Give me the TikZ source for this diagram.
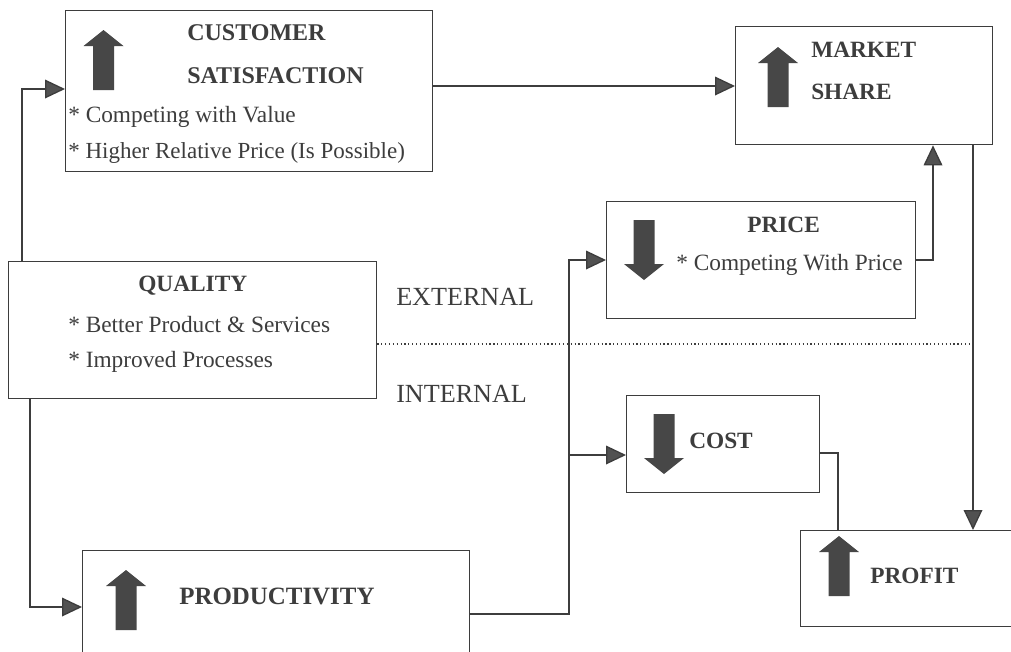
\documentclass[tikz,border=0pt]{standalone}
\usepackage{fontspec}
\setmainfont{Liberation Serif}
\usetikzlibrary{arrows.meta}
\definecolor{ink}{gray}{0.24}
\tikzset{
  x=0.75pt,y=-0.75pt,
  box/.style={draw=ink,line width=1pt,fill=white,inner sep=0pt,anchor=north west},
  link/.style={draw=ink,line width=1pt},
  tip/.style={-{Triangle[length=15pt,width=14pt,fill=ink!90]}},
  head/.style={font=\bfseries\fontsize{18}{18}\selectfont,text=ink,anchor=west,inner sep=0pt},
  smallhead/.style={font=\bfseries\fontsize{17.5}{17.5}\selectfont,text=ink,anchor=west,inner sep=0pt},
  bighead/.style={font=\bfseries\fontsize{18.7}{18.7}\selectfont,text=ink,anchor=west,inner sep=0pt},
  body/.style={font=\fontsize{17.5}{17.5}\selectfont,text=ink,anchor=west,inner sep=0pt},
  side/.style={font=\fontsize{19.6}{19.6}\selectfont,text=ink,anchor=west,inner sep=0pt},
  bigarrow/.style={fill=ink!95,draw=none},
  pics/uparrow/.style={code={\path[bigarrow] (-10.5,60)--(-10.5,16)--(-20,16)--(0,0)--(20,16)--(10.5,16)--(10.5,60)--cycle;}},
  pics/downarrow/.style={code={\path[bigarrow] (-10.5,0)--(-10.5,44)--(-20,44)--(0,60)--(20,44)--(10.5,44)--(10.5,0)--cycle;}},
}
\newcommand{\boxat}[5]{\node[box,minimum width=#4*0.75pt,minimum height=#5*0.75pt] (#1) at (#2,#3) {};}
\begin{document}
\begin{tikzpicture}
\useasboundingbox (0,0) rectangle (1011,651);
\fill[white] (0,0) rectangle (1011,651);
\boxat{customer}{65}{10}{367}{161}
\boxat{market}{735}{26}{257}{118}
\boxat{price}{606}{201}{309}{117}
\boxat{quality}{8}{261}{368}{137}
\boxat{cost}{626}{395}{193}{97}
\boxat{profit}{800}{530}{260}{96}
\boxat{productivity}{82}{550}{387}{160}
\coordinate (qa) at (22,89);
\coordinate (qb) at (30,607);
\coordinate (cm) at (0,86);
\coordinate (pm) at (933,260);
\coordinate (mp) at (973,0);
\coordinate (bus) at (569,614);
\coordinate (busp) at (569,260);
\coordinate (bc) at (569,455);
\coordinate (cp) at (838,453);
\coordinate (dl) at (975,344);
\draw[link,tip] (quality.north -| qa) |- (customer.west |- qa);
\draw[link,tip] (customer.east |- cm) -- (market.west |- cm);
\draw[link,tip] (price.east |- pm) -| (market.south -| pm);
\draw[link,tip] (market.south -| mp) -- (profit.north -| mp);
\draw[link,tip] (quality.south -| qb) |- (productivity.west |- qb);
\draw[link,tip] (productivity.east |- bus) -- (bus) -- (busp) -- (price.west |- busp);
\draw[link,tip] (bc) -- (cost.west |- bc);
\draw[link] (cost.east |- cp) -| (profit.north -| cp);
\draw[ink,line width=0.9pt,dotted] (quality.east |- dl) -- (dl);
\pic at (103.5,30) {uparrow};
\pic at (778,47) {uparrow};
\pic at (644,220) {downarrow};
\pic at (664,414) {downarrow};
\pic at (839,536) {uparrow};
\pic at (126,570) {uparrow};
\node[head] (t1) at (187,33) {CUSTOMER};
\node[head] (t2) at (187,76) {SATISFACTION};
\node[body] (b1) at (68,117) {* Competing with Value};
\node[body,font=\fontsize{17.25}{17.25}\selectfont] (b2) at (68,153) {* Higher Relative Price (Is Possible)};
\node[smallhead] (t3) at (811,50) {MARKET};
\node[smallhead] (t4) at (811,92) {SHARE};
\node[smallhead] (t5) at (747,225) {PRICE};
\node[body] (b3) at (676,265) {* Competing With Price};
\node[smallhead] (t6) at (138,286) {QUALITY};
\node[body] (b4) at (68,325) {* Better Product \& Services};
\node[body] (b5) at (68,362) {* Improved Processes};
\node[smallhead] (t7) at (689,441) {COST};
\node[smallhead] (t8) at (870,576) {PROFIT};
\node[bighead] (t9) at (179,596) {PRODUCTIVITY};
\node[side] (e) at (396,297) {EXTERNAL};
\node[side] (i) at (396,394) {INTERNAL};
\end{tikzpicture}
\end{document}
